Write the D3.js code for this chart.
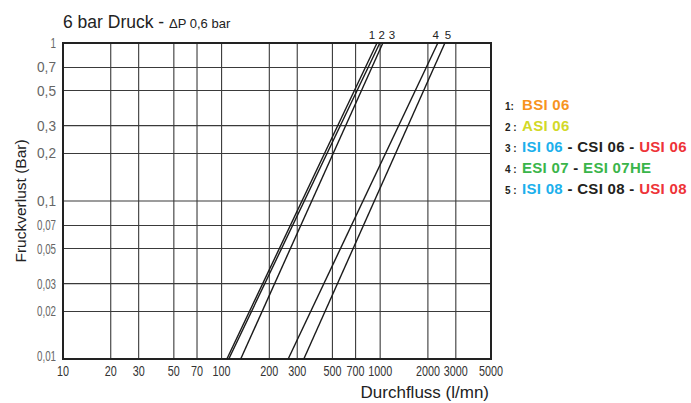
<!DOCTYPE html>
<html>
<head>
<meta charset="UTF-8">
<title>6 bar Druck</title>
<script src="https://d3js.org/d3.v7.min.js"></script>
<style>
  body { margin: 0; background: #fff; }
  text { font-family: "Liberation Sans", Arial, sans-serif; }
  .grid line { stroke: #3a3a3a; stroke-width: 1.1; }
  .tick-label { font-size: 14px; }
  .curve { fill: none; stroke: #1a1a1a; stroke-width: 1.4; }
  .legend text { font-weight: bold; }
</style>
</head>
<body>
<script>
// ticks on both log axes
var xTicks = [10, 20, 30, 50, 70, 100, 200, 300, 500, 700, 1000, 2000, 3000, 5000];
var yTicks = [0.01, 0.02, 0.03, 0.05, 0.07, 0.1, 0.2, 0.3, 0.5, 0.7, 1];

// curves: flow (l/mn) where each reaches 0,01 bar and 1 bar
var curveIds = ["1", "2", "3", "4", "5"];
var flowAtLow = [108, 111, 132, 263, 330];
var flowAtHigh = [955, 995, 1040, 2310, 2560];
var pLow = 0.01, pHigh = 1;

// legend rows: [text, colour]
var legendNums = ["1:", "2 :", "3 :", "4 :", "5 :"];
var legendRows = [
  [["BSI 06", "#f7941d"]],
  [["ASI 06", "#d2d927"]],
  [["ISI 06", "#1cb0ec"], [" - ", "#231f20"], ["CSI 06", "#231f20"], [" - ", "#231f20"], ["USI 06", "#ee3338"]],
  [["ESI 07", "#3ab54a"], [" - ", "#231f20"], ["ESI 07HE", "#3ab54a"]],
  [["ISI 08", "#1cb0ec"], [" - ", "#231f20"], ["CSI 08", "#231f20"], [" - ", "#231f20"], ["USI 08", "#ee3338"]]
];

(function () {
    var W = 691, H = 403;
    var mLeft = 63, mRight = 491, mTop = 43, mBottom = 359;

    var svg = d3.select("body").append("svg")
        .attr("width", W)
        .attr("height", H);

    var x = d3.scaleLog().domain([10, 5000]).range([mLeft, mRight]);
    var y = d3.scaleLog().domain([0.01, 1]).range([mBottom, mTop]);

    var fmt = function (v) { return String(v).replace(".", ","); };

    // grid
    var grid = svg.append("g").attr("class", "grid");
    grid.selectAll(".vx").data(xTicks).enter().append("line")
        .attr("x1", function (d) { return x(d); })
        .attr("x2", function (d) { return x(d); })
        .attr("y1", mTop).attr("y2", mBottom);
    grid.selectAll(".hy").data(yTicks).enter().append("line")
        .attr("y1", function (d) { return y(d); })
        .attr("y2", function (d) { return y(d); })
        .attr("x1", mLeft).attr("x2", mRight);

    // frame
    svg.append("rect")
        .attr("x", mLeft).attr("y", mTop)
        .attr("width", mRight - mLeft).attr("height", mBottom - mTop)
        .attr("fill", "none").attr("stroke", "#222").attr("stroke-width", 2);

    // tick labels, narrow like the original's condensed face
    svg.selectAll(".xl").data(xTicks).enter().append("text")
        .attr("class", "tick-label")
        .attr("x", function (d) { return x(d); })
        .attr("y", mBottom + 17)
        .attr("text-anchor", "middle")
        .attr("textLength", function (d) { return String(d).length * 6; })
        .attr("lengthAdjust", "spacingAndGlyphs")
        .style("fill", "#333")
        .text(function (d) { return d; });

    svg.selectAll(".yl").data(yTicks).enter().append("text")
        .attr("class", "tick-label")
        .attr("x", mLeft - 7)
        .attr("y", function (d) { return y(d) + (d === 0.01 ? 1.5 : 5); })
        .attr("text-anchor", "end")
        .attr("textLength", function (d) { return d === 1 ? 5.5 : 19; })
        .attr("lengthAdjust", "spacingAndGlyphs")
        .style("fill", "#666")
        .text(fmt);

    // curves
    var line = d3.line()
        .x(function (d) { return x(d[0]); })
        .y(function (d) { return y(d[1]); });

    svg.selectAll(".curve").data(curveIds).enter().append("path")
        .attr("class", "curve")
        .attr("d", function (d, i) {
            return line([[flowAtLow[i], pLow], [flowAtHigh[i], pHigh]]);
        });

    // curve numbers above the frame
    var labelShift = [-5, 2, 9, -2, 3];
    svg.selectAll(".cid").data(curveIds).enter().append("text")
        .attr("x", function (d, i) { return x(flowAtHigh[i]) + labelShift[i]; })
        .attr("y", mTop - 4)
        .attr("text-anchor", "middle")
        .style("font-size", "11.5px")
        .style("fill", "#222")
        .text(function (d) { return d; });

    // titles
    var title = svg.append("text").attr("x", 63).attr("y", 28).style("fill", "#222");
    title.append("tspan").style("font-size", "17.5px").text("6 bar Druck - ");
    title.append("tspan").style("font-size", "13px").text("\u0394P 0,6 bar");

    svg.append("text")
        .attr("transform", "translate(26," + ((mTop + mBottom) / 2) + ") rotate(-90)")
        .attr("text-anchor", "middle")
        .style("font-size", "15.5px")
        .style("fill", "#222")
        .text("Fruckverlust (Bar)");

    svg.append("text")
        .attr("x", mRight - 2)
        .attr("y", 398)
        .attr("text-anchor", "end")
        .style("font-size", "17px")
        .style("fill", "#222")
        .text("Durchfluss (l/mn)");

    // legend
    var legend = svg.append("g").attr("class", "legend");
    legendRows.forEach(function (row, i) {
        var ly = 110 + i * 20.9;
        legend.append("text")
            .attr("x", 505).attr("y", ly)
            .style("font-size", "10px").style("fill", "#231f20")
            .text(legendNums[i]);
        var t = legend.append("text")
            .attr("x", 522).attr("y", ly)
            .style("font-size", "15px")
            .style("letter-spacing", "0.3px")
            .attr("xml:space", "preserve");
        row.forEach(function (seg) {
            t.append("tspan").style("fill", seg[1]).text(seg[0]);
        });
    });
})();
</script>
</body>
</html>
